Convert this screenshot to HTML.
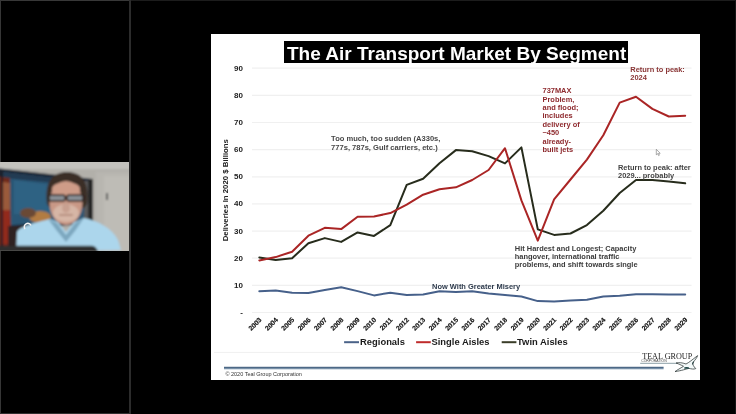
<!DOCTYPE html>
<html><head><meta charset="utf-8">
<style>
*{margin:0;padding:0;box-sizing:border-box}
html,body{width:736px;height:414px;overflow:hidden;background:#000;font-family:"Liberation Sans",sans-serif}
.abs{position:absolute}
#topbar{left:0;top:0;width:736px;height:1px;background:#1c1c1c}
#topbarL{left:0;top:0;width:130px;height:1.2px;background:#383838}
#leftb{left:0;top:0;width:1px;height:414px;background:#363636}
#botL{left:0;top:413px;width:130px;height:1px;background:#303030}
#rightb{left:735px;top:0;width:1px;height:414px;background:#161616}
#divider{left:129px;top:0;width:1.5px;height:414px;background:#2c2c2c}
#cam{left:0;top:162px;width:129px;height:89px;overflow:hidden;background:#c4c4c2}
#slide{left:211px;top:33.5px;width:489px;height:346px;background:#fff}
#title{left:284.3px;top:41.3px;width:344.3px;height:22.4px;background:#000;color:#fff;font-weight:bold;font-size:19px;line-height:26px;will-change:transform;padding-left:3px;white-space:nowrap}
.chart{position:absolute;left:0;top:0;will-change:transform}
.ann{position:absolute;font-weight:bold;font-size:7.45px;line-height:8.4px;white-space:nowrap}
</style></head><body>
<div class="abs" id="topbar"></div>
<div class="abs" id="topbarL"></div>
<div class="abs" id="leftb"></div>
<div class="abs" id="botL"></div>
<div class="abs" id="rightb"></div>
<div class="abs" id="divider"></div>
<div class="abs" id="cam">
<svg width="129" height="89" viewBox="0 162 129 89" style="position:absolute;left:0;top:0">
<defs><filter id="bl" x="-10%" y="-10%" width="120%" height="120%"><feGaussianBlur stdDeviation="1.2"/></filter>
<filter id="bl2"><feGaussianBlur stdDeviation="0.5"/></filter></defs>
<g filter="url(#bl)">
<rect x="-5" y="155" width="140" height="100" fill="#b2b0aa"/>
<rect x="-5" y="158" width="140" height="11" fill="#c3c2bd"/>
<rect x="96" y="172" width="35" height="80" fill="#b8b6b0"/>
<rect x="104" y="176" width="30" height="76" fill="#bebcb6"/>
<polygon points="-5,168 93,179 93,223 -5,232" fill="#1c2736"/>
<polygon points="3,172 88,182 88,219 3,226" fill="#2a5674"/>
<polygon points="3,172 88,182 88,186 3,178" fill="#243a52"/>
<polygon points="14,180 60,186 62,214 14,214" fill="#2e6283"/>
<polygon points="-5,176 10,178 11,250 -5,250" fill="#6e2a1c"/>
<polygon points="3,182 10,183 10,210 3,210" fill="#9a5a3a"/>
<polygon points="3,210 10,210 11,244 3,244" fill="#922c1e"/>
<rect x="1" y="170" width="2" height="80" fill="#1a1c22"/>
<ellipse cx="40" cy="217" rx="11" ry="6" fill="#b27b42"/>
<ellipse cx="28" cy="213" rx="8" ry="5" fill="#6a4a34"/>
<rect x="8" y="226" width="18" height="24" fill="#2e2424"/>
<rect x="88" y="179" width="5" height="45" fill="#262628"/>
<rect x="84" y="181" width="4" height="40" fill="#5a5a5c"/>
<path d="M47,204 C44,180 54,172 67,172 C80,172 90,180 87,204 L84,208 L50,208 Z" fill="#3b2d26"/>
<ellipse cx="66" cy="203" rx="16.5" ry="22" fill="#c99886"/>
<ellipse cx="66" cy="189" rx="14" ry="7" fill="#cf9c88"/>
<ellipse cx="66" cy="213" rx="13" ry="9" fill="#d6b6a6"/>
<ellipse cx="66" cy="208" rx="4" ry="5" fill="#c8a090"/>
<rect x="59" y="214" width="14" height="2" rx="1" fill="#b89080"/>
<rect x="49" y="195" width="16" height="6" rx="2" fill="#8a9096" stroke="#231c1a" stroke-width="1.5"/>
<rect x="67" y="195" width="16" height="6" rx="2" fill="#8a9096" stroke="#231c1a" stroke-width="1.5"/>
<path d="M16,252 L17,232 C20,226 38,222 50,219 L58,222 L66,232 L74,222 L84,218 C98,221 112,228 118,240 L121,250 Z" fill="#acd6ec"/>
<path d="M48,219 L57,231 L66,242 L75,231 L84,218 L75,223 L66,235 L57,223 Z" fill="#7da7bf"/>
<path d="M-2,245.8 L92,245.8 C95,246 97,248 98,252 L-2,252 Z" fill="#2e2e2e"/>
<rect x="106" y="193" width="2" height="7" fill="#555"/>
</g>
<path d="M25,229 A3.5,3.5 0 1 1 31,225.5" fill="none" stroke="#f2f2f2" stroke-width="1.5" filter="url(#bl2)"/>
</svg>

</div>
<div class="abs" id="slide"></div>
<div class="abs" id="title">The Air Transport Market By Segment</div>
<svg class="chart" width="736" height="414" viewBox="0 0 736 414">
<g stroke="#f0f0f0" stroke-width="1.2"><line x1="252" x2="691.5" y1="312.5" y2="312.5"/><line x1="252" x2="691.5" y1="285.4" y2="285.4"/><line x1="252" x2="691.5" y1="258.2" y2="258.2"/><line x1="252" x2="691.5" y1="231.1" y2="231.1"/><line x1="252" x2="691.5" y1="203.9" y2="203.9"/><line x1="252" x2="691.5" y1="176.8" y2="176.8"/><line x1="252" x2="691.5" y1="149.6" y2="149.6"/><line x1="252" x2="691.5" y1="122.5" y2="122.5"/><line x1="252" x2="691.5" y1="95.3" y2="95.3"/><line x1="252" x2="691.5" y1="68.2" y2="68.2"/></g>
<line x1="214" x2="640" y1="352.4" y2="352.5" stroke="#f0f0f0" stroke-width="1"/>
<g font-family="Liberation Sans" font-weight="bold" font-size="8" fill="#222" text-anchor="end"><text x="243" y="315.0">-</text><text x="243" y="287.9">10</text><text x="243" y="260.7">20</text><text x="243" y="233.6">30</text><text x="243" y="206.4">40</text><text x="243" y="179.2">50</text><text x="243" y="152.1">60</text><text x="243" y="125.0">70</text><text x="243" y="97.8">80</text><text x="243" y="70.7">90</text></g>
<g font-family="Liberation Sans" font-weight="bold" font-size="6.8" fill="#111" stroke="#111" stroke-width="0.15" text-anchor="end"><text transform="translate(262.0 320.4) rotate(-45)">2003</text><text transform="translate(278.4 320.4) rotate(-45)">2004</text><text transform="translate(294.8 320.4) rotate(-45)">2005</text><text transform="translate(311.1 320.4) rotate(-45)">2006</text><text transform="translate(327.5 320.4) rotate(-45)">2007</text><text transform="translate(343.9 320.4) rotate(-45)">2008</text><text transform="translate(360.3 320.4) rotate(-45)">2009</text><text transform="translate(376.7 320.4) rotate(-45)">2010</text><text transform="translate(393.0 320.4) rotate(-45)">2011</text><text transform="translate(409.4 320.4) rotate(-45)">2012</text><text transform="translate(425.8 320.4) rotate(-45)">2013</text><text transform="translate(442.2 320.4) rotate(-45)">2014</text><text transform="translate(458.6 320.4) rotate(-45)">2015</text><text transform="translate(474.9 320.4) rotate(-45)">2016</text><text transform="translate(491.3 320.4) rotate(-45)">2017</text><text transform="translate(507.7 320.4) rotate(-45)">2018</text><text transform="translate(524.1 320.4) rotate(-45)">2019</text><text transform="translate(540.5 320.4) rotate(-45)">2020</text><text transform="translate(556.8 320.4) rotate(-45)">2021</text><text transform="translate(573.2 320.4) rotate(-45)">2022</text><text transform="translate(589.6 320.4) rotate(-45)">2023</text><text transform="translate(606.0 320.4) rotate(-45)">2024</text><text transform="translate(622.4 320.4) rotate(-45)">2025</text><text transform="translate(638.7 320.4) rotate(-45)">2026</text><text transform="translate(655.1 320.4) rotate(-45)">2027</text><text transform="translate(671.5 320.4) rotate(-45)">2028</text><text transform="translate(687.9 320.4) rotate(-45)">2029</text></g>
<text transform="translate(227.9 190.2) rotate(-90)" font-family="Liberation Sans" font-weight="bold" font-size="7.8" fill="#222" text-anchor="middle">Deliveries In 2020 $ Billions</text>
<g fill="none" stroke-width="2" stroke-linejoin="round" stroke-linecap="round">
<path d="M259.3 291.3 L275.7 290.5 L292.1 292.7 L308.4 293.0 L324.8 290.0 L341.2 287.3 L357.6 291.1 L374.0 295.4 L390.3 292.7 L406.7 294.9 L423.1 294.6 L439.5 291.3 L455.9 291.9 L472.2 291.3 L488.6 293.5 L505.0 295.1 L521.4 296.5 L537.8 301.1 L554.1 301.4 L570.5 300.6 L586.9 299.7 L603.3 296.5 L619.7 295.7 L636.0 294.3 L652.4 294.3 L668.8 294.6 L685.2 294.6" stroke="#46608a"/>
<path d="M259.3 257.4 L275.7 260.1 L292.1 258.2 L308.4 243.3 L324.8 238.1 L341.2 241.9 L357.6 232.4 L374.0 235.9 L390.3 225.1 L406.7 184.9 L423.1 178.7 L439.5 163.2 L455.9 150.1 L472.2 151.2 L488.6 156.1 L505.0 163.4 L521.4 147.4 L537.8 229.4 L554.1 234.9 L570.5 233.5 L586.9 225.1 L603.3 210.7 L619.7 193.0 L636.0 180.0 L652.4 180.0 L668.8 181.4 L685.2 183.3" stroke="#272c1c"/>
<path d="M259.3 260.4 L275.7 257.1 L292.1 251.7 L308.4 235.7 L324.8 227.8 L341.2 229.1 L357.6 216.7 L374.0 216.4 L390.3 213.1 L406.7 204.7 L423.1 194.7 L439.5 189.2 L455.9 187.3 L472.2 180.0 L488.6 170.0 L505.0 148.2 L521.4 200.4 L537.8 240.6 L554.1 199.3 L570.5 179.5 L586.9 159.6 L603.3 135.2 L619.7 102.6 L636.0 96.7 L652.4 108.9 L668.8 116.5 L685.2 115.7" stroke="#aa2525"/>
</g>
<g font-family="Liberation Sans" font-weight="bold"><g font-size="7.55" fill="#474747"><text x="331.1" y="141.10">Too much, too sudden (A330s,</text><text x="331.1" y="149.50">777s, 787s, Gulf carriers, etc.)</text></g><g font-size="7.45" fill="#8e2a2e"><text x="542.5" y="93.20">737MAX</text><text x="542.5" y="101.61">Problem,</text><text x="542.5" y="110.02">and flood;</text><text x="542.5" y="118.43">includes</text><text x="542.5" y="126.84">delivery of</text><text x="542.5" y="135.25">~450</text><text x="542.5" y="143.66">already-</text><text x="542.5" y="152.07">built jets</text></g><g font-size="7.45" fill="#8a3535"><text x="630.3" y="71.80">Return to peak:</text><text x="630.3" y="80.00">2024</text></g><g font-size="7.45" fill="#444"><text x="618.0" y="169.90">Return to peak: after</text><text x="618.0" y="178.00">2029... probably</text></g><g font-size="7.45" fill="#3c3c3c"><text x="514.8" y="250.80">Hit Hardest and Longest; Capacity</text><text x="514.8" y="258.90">hangover, international traffic</text><text x="514.8" y="267.00">problems, and shift towards single</text></g><g font-size="7.45" fill="#2d3a4c"><text x="432.1" y="288.90">Now With Greater Misery</text></g></g>
<g stroke-width="2"><line x1="344.1" x2="359" y1="342.2" y2="342.2" stroke="#4a6288"/><line x1="416.1" x2="430.8" y1="342.2" y2="342.2" stroke="#bf2b2b"/><line x1="501.7" x2="516.4" y1="342.2" y2="342.2" stroke="#3a3d28"/></g>
<g font-family="Liberation Sans" font-weight="bold" font-size="9.4" fill="#1a1a1a"><text x="360.1" y="345.4">Regionals</text><text x="431.5" y="345.4">Single Aisles</text><text x="517.1" y="345.4">Twin Aisles</text></g>
</svg>
<svg class="chart" width="736" height="414" viewBox="0 0 736 414">
<defs><linearGradient id="bar" x1="0" y1="0" x2="0" y2="1"><stop offset="0" stop-color="#2e4d6e"/><stop offset="1" stop-color="#9fb3c6"/></linearGradient></defs>
<rect x="224" y="366.8" width="439.6" height="2.6" fill="url(#bar)"/>
<text x="225.4" y="376" font-family="Liberation Sans" font-size="5.5" fill="#333">© 2020 Teal Group Corporation</text>
<text x="642.2" y="358.8" font-family="Liberation Serif" font-size="8" fill="#1a1a1a" textLength="50" lengthAdjust="spacingAndGlyphs">TEAL GROUP</text>
<text x="641.2" y="361.9" font-family="Liberation Sans" font-size="2.6" fill="#444" textLength="25.5" lengthAdjust="spacingAndGlyphs">CORPORATION</text>
<line x1="640.2" x2="678" y1="363.3" y2="363.3" stroke="#3b5c6a" stroke-width="0.6"/>
<path d="M676,363 C679,362.3 682,362.6 686,364 C689,362.5 692,360 697.6,355.6 C697.2,357.5 695,360 693,362.5 C692.3,364 693.5,366.5 695.8,368.6 C693.5,369.6 691,368.8 689,368.4 C686,369 682,370.6 675,371.6 C677,370 680.5,368.2 683.5,366.3 C681,365 679,364 676,363 Z" fill="#f3f9f9" stroke="#2c3636" stroke-width="0.75"/>
<ellipse cx="686.6" cy="367.9" rx="2.6" ry="0.9" fill="#1d4545"/>
<path d="M693.6,361.6 L692.4,364.4" stroke="#1d3a3a" stroke-width="1.1"/>
<path d="M656.3,149.3 L656.3,154.8 L657.6,153.7 L658.6,155.6 L659.4,155.2 L658.5,153.4 L660.2,153.3 Z" fill="#fff" stroke="#666" stroke-width="0.55"/>
</svg>
</body></html>
